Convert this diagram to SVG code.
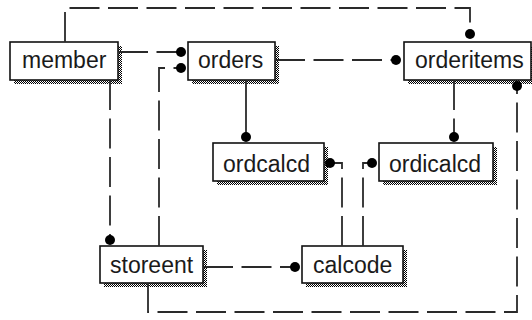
<svg xmlns="http://www.w3.org/2000/svg" width="532" height="320" viewBox="0 0 532 320">
  <defs>
    <pattern id="dither" width="2" height="2" patternUnits="userSpaceOnUse">
      <rect width="2" height="2" fill="#ffffff"/>
      <rect x="0" y="0" width="1" height="1" fill="#000000"/>
      <rect x="1" y="1" width="1" height="1" fill="#000000"/>
    </pattern>
    <style>
      .shadow { fill: url(#dither); stroke: none; }
      .box { fill: #ffffff; stroke: #111111; stroke-width: 1.6; }
      .label { font-family: "Liberation Sans", Arial, sans-serif; font-size: 23px; fill: #1a1a1a; }
      .conn { fill: none; stroke: #2a2a2a; stroke-width: 1.8; stroke-dasharray: 30 8.5; }
      .solid { fill: none; stroke: #2a2a2a; stroke-width: 1.8; }
      .dot { fill: #000000; }
    </style>
  </defs>
  <rect width="532" height="320" fill="#ffffff"/>

  <g id="member">
    <rect class="shadow" x="14" y="46" width="108" height="38"/>
    <rect class="box" x="10" y="42" width="108" height="38"/>
    <text class="label" x="22" y="68">member</text>
  </g>
  <g id="orders">
    <rect class="shadow" x="192" y="46" width="87" height="38"/>
    <rect class="box" x="188" y="42" width="87" height="38"/>
    <text class="label" x="198" y="68">orders</text>
  </g>
  <g id="orderitems">
    <rect class="shadow" x="408" y="46" width="127" height="38"/>
    <rect class="box" x="404" y="42" width="127" height="38"/>
    <text class="label" x="415" y="68">orderitems</text>
  </g>
  <g id="ordcalcd">
    <rect class="shadow" x="217" y="147" width="111" height="38"/>
    <rect class="box" x="213" y="143" width="111" height="38"/>
    <text class="label" x="223" y="172">ordcalcd</text>
  </g>
  <g id="ordicalcd">
    <rect class="shadow" x="383" y="147" width="114" height="38"/>
    <rect class="box" x="379" y="143" width="114" height="38"/>
    <text class="label" x="389" y="172">ordicalcd</text>
  </g>
  <g id="storeent">
    <rect class="shadow" x="104" y="250" width="103" height="37"/>
    <rect class="box" x="100" y="246" width="103" height="37"/>
    <text class="label" x="110" y="273">storeent</text>
  </g>
  <g id="calcode">
    <rect class="shadow" x="306" y="250" width="101" height="37"/>
    <rect class="box" x="302" y="246" width="101" height="37"/>
    <text class="label" x="313" y="273">calcode</text>
  </g>

  <g id="connectors">
    <path class="conn" d="M65,42 V8 H470 V34"/>
    <circle class="dot" cx="470" cy="34" r="5"/>

    <path class="conn" d="M118,52 H181"/>
    <circle class="dot" cx="181" cy="52" r="5"/>

    <path class="conn" d="M159,246 V68 H181"/>
    <circle class="dot" cx="181" cy="68" r="5"/>

    <path class="conn" d="M275,60 H396"/>
    <circle class="dot" cx="396" cy="60" r="5"/>

    <path class="solid" d="M246,80 V137"/>
    <circle class="dot" cx="246" cy="137" r="5"/>

    <path class="conn" d="M454,80 V137"/>
    <circle class="dot" cx="454" cy="137" r="5"/>

    <path class="conn" d="M110,80 V240"/>
    <circle class="dot" cx="110" cy="240" r="5"/>

    <path class="conn" d="M203,267 H295"/>
    <circle class="dot" cx="295" cy="267" r="5"/>

    <path class="conn" d="M342,246 V163 H330"/>
    <circle class="dot" cx="330" cy="163" r="5"/>

    <path class="conn" d="M363,246 V163 H372"/>
    <circle class="dot" cx="372" cy="163" r="5"/>

    <path class="conn" d="M148,283 V312 H517 V86"/>
    <circle class="dot" cx="517" cy="86" r="5"/>
  </g>
</svg>
